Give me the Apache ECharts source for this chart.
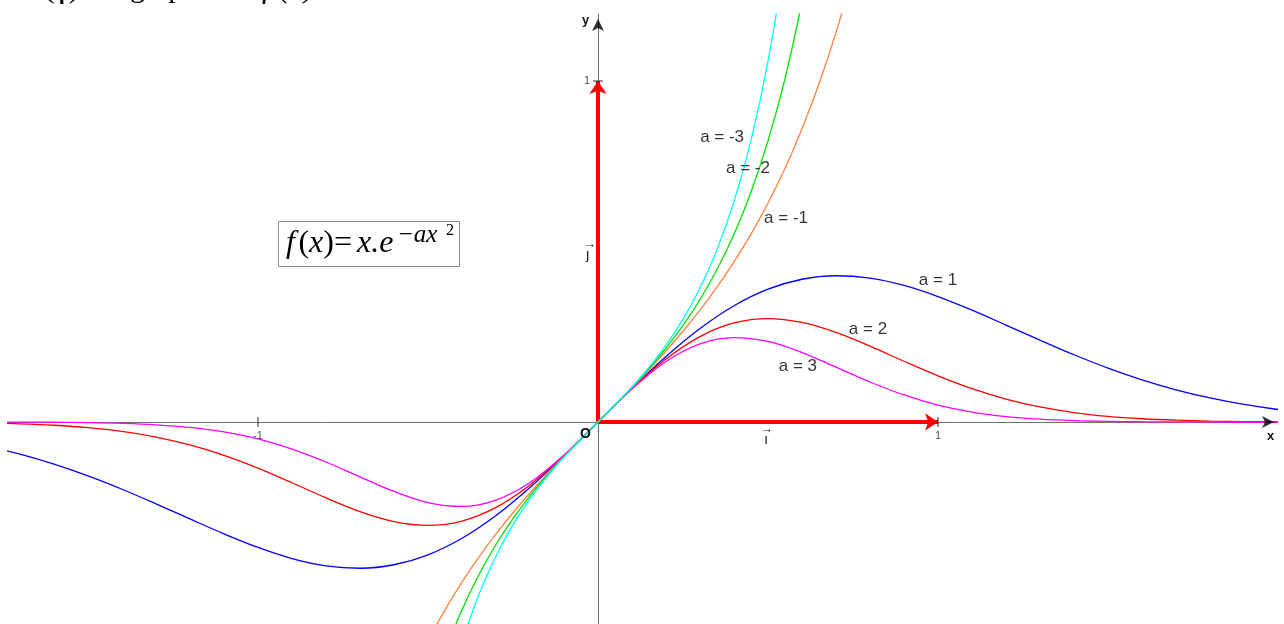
<!DOCTYPE html>
<html><head><meta charset="utf-8">
<script src="https://cdn.jsdelivr.net/npm/echarts@6/dist/echarts.min.js"></script>
<style>html,body{margin:0;padding:0;background:#fff}#c{width:1284px;height:624px}</style>
</head><body><div id="c"></div>
<script>
// ---- data ----
const xsPos = [-1.8,-1.7,-1.6,-1.5,-1.4,-1.3,-1.2,-1.1,-1.0,-0.9,-0.8,-0.7,-0.6,-0.5,-0.4,-0.3,-0.2,-0.1,0,
  0.1,0.2,0.3,0.4,0.5,0.6,0.7,0.8,0.9,1.0,1.1,1.2,1.3,1.4,1.5,1.6,1.7,1.8,1.9,2.0,2.1];
const a1 = [-0.07049,-0.09449,-0.12368,-0.15810,-0.19720,-0.23988,-0.28432,-0.32802,-0.36788,-0.40037,-0.42183,-0.42884,-0.41861,-0.38940,-0.34086,-0.27418,-0.19216,-0.09900,0,
  0.09900,0.19216,0.27418,0.34086,0.38940,0.41861,0.42884,0.42183,0.40037,0.36788,0.32802,0.28432,0.23988,0.19720,0.15810,0.12368,0.09449,0.07049,0.05139,0.03663,0.02553];
const a2 = [-0.00276,-0.00525,-0.00956,-0.01666,-0.02778,-0.04427,-0.06736,-0.09781,-0.13534,-0.17811,-0.22243,-0.26272,-0.29205,-0.30327,-0.29046,-0.25058,-0.18462,-0.09802,0,
  0.09802,0.18462,0.25058,0.29046,0.30327,0.29205,0.26272,0.22243,0.17811,0.13534,0.09781,0.06736,0.04427,0.02778,0.01666,0.00956,0.00525,0.00276,0.00139,0.00067,0.00031];
const a3 = [-0.00011,-0.00029,-0.00074,-0.00176,-0.00391,-0.00817,-0.01596,-0.02917,-0.04979,-0.07924,-0.11729,-0.16095,-0.20376,-0.23618,-0.24751,-0.22901,-0.17738,-0.09705,0,
  0.09705,0.17738,0.22901,0.24751,0.23618,0.20376,0.16095,0.11729,0.07924,0.04979,0.02917,0.01596,0.00817,0.00391,0.00176,0.00074,0.00029,0.00011,0.00004,0.00001,0];
const xsNeg = [-0.8,-0.75,-0.7,-0.65,-0.6,-0.55,-0.5,-0.45,-0.4,-0.35,-0.3,-0.25,-0.2,-0.15,-0.1,-0.05,0,
  0.05,0.1,0.15,0.2,0.25,0.3,0.35,0.4,0.45,0.5,0.55,0.6,0.65,0.7,0.75,0.8];
const am1 = [-1.51718,-1.31629,-1.14263,-0.99175,-0.86000,-0.74428,-0.64201,-0.55101,-0.46940,-0.39561,-0.32825,-0.26612,-0.20816,-0.15341,-0.10101,-0.05013,0,
  0.05013,0.10101,0.15341,0.20816,0.26612,0.32825,0.39561,0.46940,0.55101,0.64201,0.74428,0.86000,0.99175,1.14263,1.31629,1.51718];
const am2 = [-2.87731,-2.31016,-1.86512,-1.51318,-1.23266,-1.00719,-0.82436,-0.67469,-0.55085,-0.44717,-0.35917,-0.28329,-0.21666,-0.15690,-0.10202,-0.05025,0,
  0.05025,0.10202,0.15690,0.21666,0.28329,0.35917,0.44717,0.55085,0.67469,0.82436,1.00719,1.23266,1.51318,1.86512,2.31016,2.87731];
const am3 = [-5.45677,-4.05446,-3.04446,-2.30877,-1.76681,-1.36297,-1.05850,-0.82613,-0.64643,-0.50544,-0.39299,-0.30156,-0.22550,-0.16047,-0.10305,-0.05038,0,
  0.05038,0.10305,0.16047,0.22550,0.30156,0.39299,0.50544,0.64643,0.82613,1.05850,1.36297,1.76681,2.30877,3.04446,4.05446,5.45677];
const curveNames = ['a = 1','a = 2','a = 3','a = -1','a = -2','a = -3'];
const labelX = [1.0, 0.794, 0.588, 0.553, 0.441, 0.365];
const labelY = [0.416, 0.273, 0.164, 0.598, 0.745, 0.836];
const xTickVals = [-1, 1];
const xTickLabels = ['-1', '1'];
const yTickVals = [1];
const yTickLabels = ['1'];
const vectors = [[0,0,1,0],[0,0,0,1]];

// ---- layout ----
const X0=598, Y0=422, UX=340, UY=341, W=1284, H=624;
const gl=8, gr=8, gt=14, gb=0;
const xMin=(gl-X0)/UX, xMax=(W-gr-X0)/UX, yMax=(Y0-gt)/UY, yMin=(Y0-(H-gb))/UY;
const colors = ['#0000ff','#ff0000','#ff00ff','#ff8040','#00e000','#00ffff'];
const xsList = [xsPos, xsPos, xsPos, xsNeg, xsNeg, xsNeg];
const ysList = [a1, a2, a3, am1, am2, am3];

const chart = echarts.init(document.getElementById('c'), null, {renderer:'canvas'});
const series = [];
series.push({
  type:'lines', coordinateSystem:'cartesian2d', polyline:false, z:2, silent:true,
  symbol:['none','arrow'], symbolSize:13,
  lineStyle:{color:'#ff0000', width:4, opacity:1, curveness:0},
  data: vectors.map(v=>({coords:[[v[0],v[1]],[v[2],v[3]]]}))
});
ysList.forEach((ys,k)=>{
  series.push({
    type:'line', name:curveNames[k], smooth:0.35, showSymbol:false, clip:true, z:3, silent:true,
    lineStyle:{color:colors[k], width:1.3}, itemStyle:{color:colors[k]},
    data: xsList[k].map((x,i)=>[x, ys[i]])
  });
});
series.push({
  type:'scatter', symbolSize:0, z:5, silent:true,
  data: labelX.map((x,i)=>[x, labelY[i]]),
  label:{show:true, position:'inside', formatter:p=>curveNames[p.dataIndex],
    fontFamily:'Liberation Sans, Arial, sans-serif', fontSize:17, color:'#000'}
});
series.push({
  type:'scatter', symbol:'rect', symbolSize:[1.2,10], z:4, silent:true,
  itemStyle:{color:'#222'},
  data: xTickVals.map(v=>[v,0]),
  label:{show:true, position:'bottom', distance:3, formatter:p=>xTickLabels[p.dataIndex],
    fontFamily:'Liberation Sans, Arial, sans-serif', fontSize:11, color:'#222'}
});
series.push({
  type:'scatter', symbol:'rect', symbolSize:[10,1.2], z:4, silent:true,
  itemStyle:{color:'#222'},
  data: yTickVals.map(v=>[0,v]),
  label:{show:true, position:'left', distance:3, formatter:p=>yTickLabels[p.dataIndex],
    fontFamily:'Liberation Sans, Arial, sans-serif', fontSize:11, color:'#222'}
});
// black arrowheads at the axis ends
series.push({
  type:'scatter', symbol:'arrow', symbolSize:[9,12], symbolRotate:-90, symbolOffset:[-2,0], z:4, silent:true,
  itemStyle:{color:'#000'}, data:[[xMax,0]]
});
series.push({
  type:'scatter', symbol:'arrow', symbolSize:[9,12], symbolOffset:[0,5], z:4, silent:true,
  itemStyle:{color:'#000'}, data:[[0,yMax]]
});

const serif = '"Liberation Serif","Times New Roman",serif';
const sans = '"Liberation Sans",Arial,sans-serif';
chart.setOption({
  animation:false,
  backgroundColor:'#ffffff',
  grid:{left:gl, right:gr, top:gt, bottom:gb, containLabel:false},
  xAxis:{type:'value', min:xMin, max:xMax,
    axisLine:{show:true, onZero:true, lineStyle:{color:'#707070', width:1}},
    axisTick:{show:false}, axisLabel:{show:false}, splitLine:{show:false}},
  yAxis:{type:'value', min:yMin, max:yMax,
    axisLine:{show:true, onZero:true, lineStyle:{color:'#707070', width:1}},
    axisTick:{show:false}, axisLabel:{show:false}, splitLine:{show:false}},
  series: series,
  graphic:[
    {type:'text', x:44, y:-11, style:{text:'(γ)  is the', font:'32px '+serif, fill:'#000', verticalAlign:'middle'}},
    {type:'text', x:130, y:-11, style:{text:'graph of', font:'30px '+serif, fill:'#000', verticalAlign:'middle'}},
    {type:'text', x:262, y:-11, style:{text:'f (x)', font:'italic 32px '+serif, fill:'#000', verticalAlign:'middle'}},
    {type:'rect', shape:{x:278.5, y:221.5, width:181, height:45}, style:{fill:'#fff', stroke:'#8c8c8c', lineWidth:1}, z:10},
    {type:'text', x:286, y:244, z:11, style:{
      text:'{i|f}{s| }{r|(}{i|x}{r|)=}{t| }{i|x.e}', verticalAlign:'middle', fill:'#000',
      rich:{i:{font:'italic 32px '+serif, fill:'#000'}, r:{font:'32px '+serif, fill:'#000'}, s:{font:'14px '+serif}, t:{font:'20px '+serif}}}},
    {type:'text', x:397, y:235, z:11, style:{text:'−ax', font:'italic 25px '+serif, fill:'#000', verticalAlign:'middle'}},
    {type:'text', x:446, y:231, z:11, style:{text:'2', font:'16px '+serif, fill:'#000', verticalAlign:'middle'}},
    {type:'text', x:582, y:20, z:11, style:{text:'y', font:'bold 13px '+sans, fill:'#111', verticalAlign:'middle'}},
    {type:'text', x:1267, y:436, z:11, style:{text:'x', font:'bold 13px '+sans, fill:'#111', verticalAlign:'middle'}},
    {type:'text', x:580, y:434, z:11, style:{text:'O', font:'bold 14px '+sans, fill:'#111', verticalAlign:'middle'}},
    {type:'text', x:760, y:429, z:11, style:{text:'→', font:'13px '+sans, fill:'#222', verticalAlign:'middle'}},
    {type:'text', x:764, y:440, z:11, style:{text:'ı', font:'15px '+sans, fill:'#222', verticalAlign:'middle'}},
    {type:'text', x:583, y:244, z:11, style:{text:'→', font:'13px '+sans, fill:'#222', verticalAlign:'middle'}},
    {type:'text', x:586, y:255, z:11, style:{text:'ȷ', font:'15px '+sans, fill:'#222', verticalAlign:'middle'}}
  ]
});
</script>
</body></html>
